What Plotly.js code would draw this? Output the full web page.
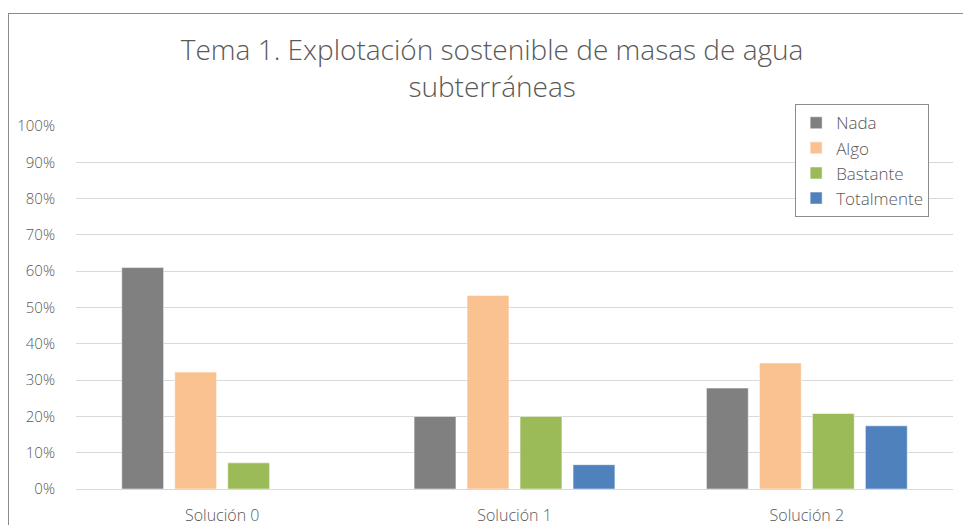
<!DOCTYPE html>
<html>
<head>
<meta charset="utf-8">
<script src="https://cdn.plot.ly/plotly-3.0.1.min.js"></script>
<style>
html,body{margin:0;padding:0;overflow:hidden;background:#fff;}
#frame{position:absolute;left:8px;top:13px;width:1100px;height:700px;border:1px solid #8c8c8c;}
#chart{position:absolute;left:0;top:0;width:963px;height:525px;}
</style>
</head>
<body>
<div id="frame"></div>
<div id="chart"></div>
<script>
const categories = ["Solución 0", "Solución 1", "Solución 2"];
const seriesNames = ["Nada", "Algo", "Bastante", "Totalmente"];
const nada = [0.61, 0.20, 0.278];
const algo = [0.322, 0.533, 0.347];
const bastante = [0.072, 0.20, 0.208];
const totalmente = [0, 0.067, 0.174];
const colors = ["#808080", "#F9C290", "#9BBB59", "#4F81BD"];
const yTicks = [0, 0.1, 0.2, 0.3, 0.4, 0.5, 0.6, 0.7, 0.8, 0.9, 1.0];

const allValues = [nada, algo, bastante, totalmente];
const traces = allValues.map((vals, i) => ({
  type: "bar",
  name: seriesNames[i],
  x: categories,
  y: vals,
  marker: {color: colors[i], line: {color: "rgba(255,255,255,0.5)", width: 1}},
  hoverinfo: "skip"
}));

const font = "'Open Sans', 'Liberation Sans', sans-serif";
const layout = {
  width: 963, height: 525,
  margin: {l: 76, r: 10, t: 126, b: 36, pad: 0},
  paper_bgcolor: "rgba(0,0,0,0)",
  plot_bgcolor: "rgba(0,0,0,0)",
  font: {family: font, color: "#595959", size: 15, weight: 300},
  title: {
    text: "Tema 1. Explotación sostenible de masas de agua<br>subterráneas",
    font: {family: font, size: 28, color: "#595959", weight: 300},
    x: 0.511, xanchor: "center", y: 0.885, yanchor: "top", yref: "container"
  },
  barmode: "group",
  bargap: 0.275,
  bargroupgap: 0.21,
  xaxis: {
    type: "category",
    showgrid: false,
    showline: true, linecolor: "#d9d9d9", linewidth: 1,
    ticks: "", tickfont: {size: 16, color: "#595959", family: font, weight: 300},
    ticklabelstandoff: 12
  },
  yaxis: {
    range: [0, 1],
    tickvals: yTicks,
    tickformat: ".0%",
    showgrid: true, gridcolor: "#d9d9d9", gridwidth: 1,
    zeroline: false, showline: false,
    ticks: "", tickfont: {size: 15, color: "#595959", family: font, weight: 300},
    ticklabelstandoff: 20
  },
  legend: {
    x: 0.82, xanchor: "left", y: 1.06, yanchor: "top",
    bgcolor: "#ffffff", bordercolor: "#8c8c8c", borderwidth: 1,
    font: {size: 17, color: "#595959", family: font, weight: 300},
    itemwidth: 30, tracegroupgap: 0
  },
  showlegend: true
};

Plotly.newPlot("chart", traces, layout, {displayModeBar: false, staticPlot: true});
</script>
</body>
</html>
